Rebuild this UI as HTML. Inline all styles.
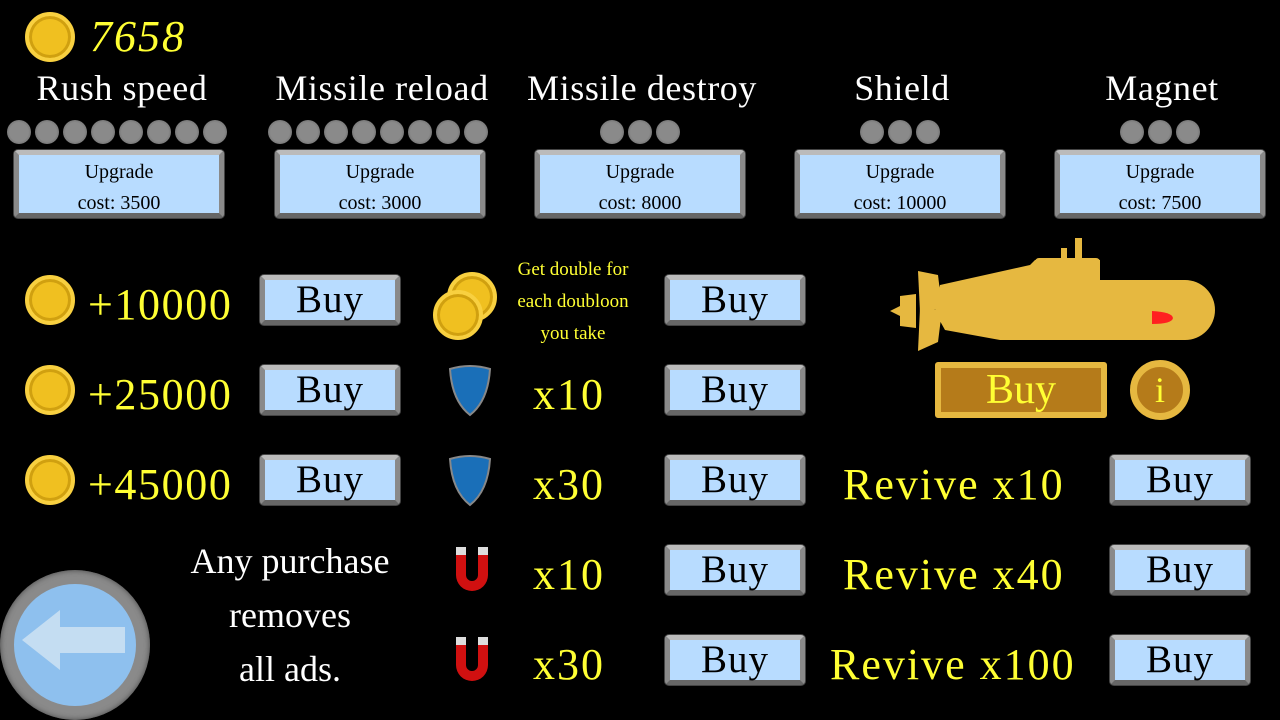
<!DOCTYPE html>
<html><head><style>
body{margin:0;width:1280px;height:720px;background:#000;position:relative;overflow:hidden;font-family:"Liberation Serif",serif}
.a{position:absolute}
.t{position:absolute;color:#fff;font-size:36px;text-align:center;width:260px;line-height:40px;letter-spacing:0.6px}
.y{position:absolute;color:#ffff33;font-size:44px;line-height:50px;white-space:nowrap;letter-spacing:2px}
.btn{position:absolute;box-sizing:border-box;background:#b8dcff;border:5px solid #8a8a8a;border-top-color:#bbb;border-bottom-color:#666;border-radius:4px;color:#000;text-align:center;box-shadow:0 0 0 1px #444}
.buy{width:140px;height:50px;font-size:39px;line-height:40px;letter-spacing:1px}
.up{width:210px;height:68px;font-size:20px;line-height:31px;padding-top:2px}
.dot{position:absolute;width:24px;height:24px;border-radius:50%;background:radial-gradient(circle at 50% 50%,#8a8a8a 55%,#5a5a5a 100%)}
.coin{position:absolute;width:50px;height:50px;border-radius:50%;background:#f0c020;box-sizing:border-box;border:4px solid #f8d040;box-shadow:inset 0 0 0 3px #d0a010}
.sh{position:absolute;width:44px;height:52px}
</style></head><body>
<div class="coin" style="left:25px;top:12px"></div>
<div class="y" style="left:90px;top:12px;font-style:italic">7658</div>

<div class="t" style="left:-8px;top:68px">Rush speed</div>
<div class="t" style="left:252px;top:68px">Missile reload</div>
<div class="t" style="left:512px;top:68px">Missile destroy</div>
<div class="t" style="left:772px;top:68px">Shield</div>
<div class="t" style="left:1032px;top:68px">Magnet</div>

<div id="dots"></div>
<script>
var h='';
for(var i=0;i<8;i++){h+='<div class="dot" style="left:'+(7+i*28)+'px;top:120px"></div>';h+='<div class="dot" style="left:'+(268+i*28)+'px;top:120px"></div>';}
[640,900,1160].forEach(function(c){for(var i=0;i<3;i++)h+='<div class="dot" style="left:'+(c-40+i*28)+'px;top:120px"></div>';});
document.getElementById('dots').innerHTML=h;
</script>

<div class="btn up" style="left:14px;top:150px">Upgrade<br>cost: 3500</div>
<div class="btn up" style="left:275px;top:150px">Upgrade<br>cost: 3000</div>
<div class="btn up" style="left:535px;top:150px">Upgrade<br>cost: 8000</div>
<div class="btn up" style="left:795px;top:150px">Upgrade<br>cost: 10000</div>
<div class="btn up" style="left:1055px;top:150px">Upgrade<br>cost: 7500</div>

<div class="coin" style="left:25px;top:275px"></div><div class="y" style="left:88px;top:280px;letter-spacing:1.6px">+10000</div>
<div class="coin" style="left:25px;top:365px"></div><div class="y" style="left:88px;top:370px;letter-spacing:1.6px">+25000</div>
<div class="coin" style="left:25px;top:455px"></div><div class="y" style="left:88px;top:460px;letter-spacing:1.6px">+45000</div>

<div class="btn buy" style="left:260px;top:275px">Buy</div>
<div class="btn buy" style="left:260px;top:365px">Buy</div>
<div class="btn buy" style="left:260px;top:455px">Buy</div>
<div class="btn buy" style="left:665px;top:275px">Buy</div>
<div class="btn buy" style="left:665px;top:365px">Buy</div>
<div class="btn buy" style="left:665px;top:455px">Buy</div>
<div class="btn buy" style="left:665px;top:545px">Buy</div>
<div class="btn buy" style="left:665px;top:635px">Buy</div>
<div class="btn buy" style="left:1110px;top:455px">Buy</div>
<div class="btn buy" style="left:1110px;top:545px">Buy</div>
<div class="btn buy" style="left:1110px;top:635px">Buy</div>

<div class="coin" style="left:447px;top:272px"></div>
<div class="coin" style="left:433px;top:290px"></div>
<div class="a" style="left:503px;top:254px;width:140px;color:#ffff33;font-size:19px;line-height:32px;text-align:center">Get double for<br>each doubloon<br>you take</div>

<svg class="sh" style="left:448px;top:365px" viewBox="0 0 44 52"><path d="M2 4 Q22 -2 42 4 Q40 36 22 50 Q4 36 2 4Z" fill="#1a6fb8" stroke="#888" stroke-width="2"/></svg>
<svg class="sh" style="left:448px;top:455px" viewBox="0 0 44 52"><path d="M2 4 Q22 -2 42 4 Q40 36 22 50 Q4 36 2 4Z" fill="#1a6fb8" stroke="#888" stroke-width="2"/></svg>
<svg class="sh" style="left:450px;top:545px" viewBox="0 0 44 52"><path d="M6 4 V30 A16 16 0 0 0 38 30 V4 H28 V30 A6 6 0 0 1 16 30 V4Z" fill="#d01010"/><rect x="6" y="2" width="10" height="8" fill="#ddd"/><rect x="28" y="2" width="10" height="8" fill="#ddd"/></svg>
<svg class="sh" style="left:450px;top:635px" viewBox="0 0 44 52"><path d="M6 4 V30 A16 16 0 0 0 38 30 V4 H28 V30 A6 6 0 0 1 16 30 V4Z" fill="#d01010"/><rect x="6" y="2" width="10" height="8" fill="#ddd"/><rect x="28" y="2" width="10" height="8" fill="#ddd"/></svg>

<div class="y" style="left:533px;top:370px">x10</div>
<div class="y" style="left:533px;top:460px">x30</div>
<div class="y" style="left:533px;top:550px">x10</div>
<div class="y" style="left:533px;top:640px">x30</div>

<div class="y" style="left:843px;top:460px">Revive x10</div>
<div class="y" style="left:843px;top:550px">Revive x40</div>
<div class="y" style="left:830px;top:640px">Revive x100</div>

<div class="a" style="left:160px;top:534px;width:260px;color:#fff;font-size:36px;line-height:54px;text-align:center">Any purchase<br>removes<br>all ads.</div>

<svg class="a" style="left:880px;top:230px" width="340" height="130" viewBox="0 0 340 130">
<path d="M60 55 L150 35 L155 30 L220 30 L220 50 L305 50 A25 25 0 0 1 305 110 L120 110 L65 100 L55 82Z" fill="#e6b840"/>
<rect x="155" y="28" width="65" height="20" rx="4" fill="#e6b840"/>
<rect x="195" y="8" width="7" height="24" fill="#e6b840"/><rect x="181" y="18" width="6" height="14" fill="#e6b840"/>
<path d="M38 41 L58 45 L62 78 L40 82 Z" fill="#e6b840"/>
<path d="M40 78 L62 80 L58 112 L38 121 Z" fill="#e6b840"/>
<path d="M10 81 L20 76 L20 66 L36 64 L36 98 L20 96 L20 86Z" fill="#e6b840"/>
<path d="M272 81 Q292 82 293 88 Q292 94 272 94Z" fill="#ff2020"/>
</svg>
<div class="a" style="left:935px;top:362px;width:172px;height:56px;box-sizing:border-box;background:#b57b1a;border:6px solid #e6b840;border-radius:3px;color:#ffff33;font-size:42px;line-height:44px;text-align:center">Buy</div>
<div class="a" style="left:1130px;top:360px;width:60px;height:60px;border-radius:50%;box-sizing:border-box;background:#b57b1a;border:7px solid #e6b840;color:#ffff33;font-size:36px;line-height:46px;text-align:center">i</div>

<div class="a" style="left:0px;top:570px;width:150px;height:150px;border-radius:50%;background:#8a8a8a;box-shadow:inset 0 0 6px #444"></div>
<div class="a" style="left:14px;top:584px;width:122px;height:122px;border-radius:50%;background:#8ec0ee"></div>
<svg class="a" style="left:20px;top:605px" width="110" height="70" viewBox="0 0 110 70"><path d="M2 35 L40 5 L40 22 L105 22 L105 48 L40 48 L40 65Z" fill="#c4ddf2"/></svg>
</body></html>
